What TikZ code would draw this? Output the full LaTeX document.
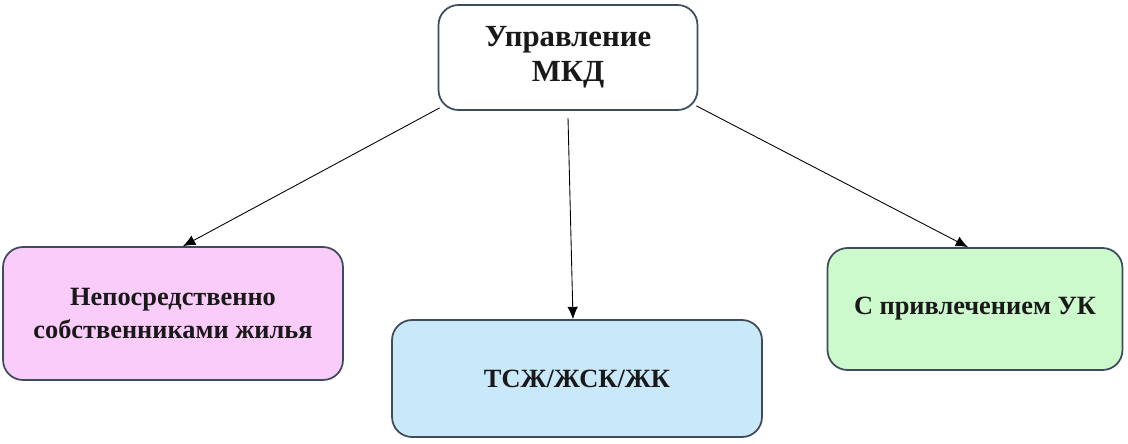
\documentclass[tikz,border=0pt]{standalone}
\usepackage{fontspec}
\setmainfont{Liberation Serif}
\usetikzlibrary{arrows.meta}

\definecolor{boxline}{HTML}{3E4C5C}
\definecolor{pinkfill}{HTML}{FACCFA}
\definecolor{bluefill}{HTML}{C9E8F9}
\definecolor{greenfill}{HTML}{CDFACD}

\begin{document}
\begin{tikzpicture}[x=0.02cm, y=-0.02cm,
        box/.style={draw=boxline, line width=1pt, rounded corners=0.4cm, align=center,
            font=\fontsize{15}{18.5}\selectfont\bfseries, text=black!90},
        link/.style={-{Latex[length=7pt,width=6pt]}, line width=0.5pt}]
        \useasboundingbox (0,0) rectangle (1128,443);
        \node[box, fill=white, minimum width=5.18cm, minimum height=2.1cm,
            font=\fontsize{17.5}{20}\selectfont\bfseries] (mkd) at (568,57.5) {Управление\\МКД};
        \node[box, fill=pinkfill, minimum width=6.8cm, minimum height=2.66cm] (owners) at (173,313.5) {Непосредственно\\собственниками жилья};
        \node[box, fill=bluefill, minimum width=7.4cm, minimum height=2.34cm] (tsj) at (577,378.5) {ТСЖ/ЖСК/ЖК};
        \node[box, fill=greenfill, minimum width=5.9cm, minimum height=2.44cm] (uk) at (975,309) {С привлечением УК};
        \draw[link] ([xshift=0.04cm,yshift=0.06cm]mkd.south west) -- ([xshift=0.2cm]owners.north);
        \draw[link] ([yshift=-0.14cm]mkd.south) -- ([xshift=-0.08cm]tsj.north);
        \draw[link] ([xshift=-0.04cm,yshift=0.1cm]mkd.south east) -- ([xshift=-0.14cm]uk.north);
    \end{tikzpicture}
\end{document}
